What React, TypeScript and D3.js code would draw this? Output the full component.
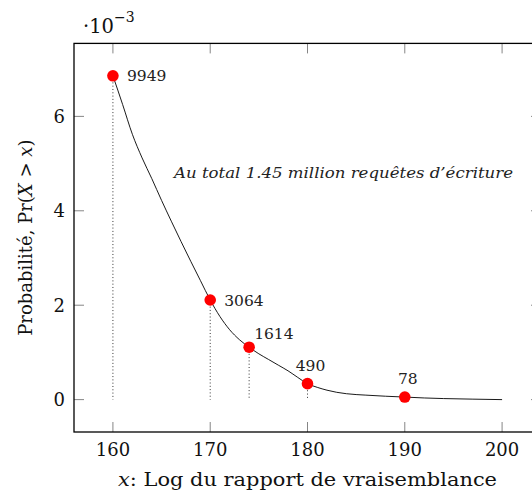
import React from "react";
import * as d3 from "d3";

// Data (probabilities in units of 1e-3)
const curveX = [160, 161, 162, 163, 164, 165, 166, 167, 168, 169, 170, 171, 172, 173, 174, 175, 176, 177, 178, 179, 180, 181, 182, 183, 184, 186, 188, 190, 192, 194, 197, 200];
const curveY = [6.86, 6.25, 5.62, 5.12, 4.68, 4.22, 3.78, 3.35, 2.93, 2.52, 2.11, 1.76, 1.48, 1.27, 1.11, 0.97, 0.85, 0.73, 0.61, 0.47, 0.338, 0.26, 0.2, 0.155, 0.125, 0.095, 0.072, 0.054, 0.035, 0.022, 0.01, 0.0];
const pointX = [160, 170, 174, 180, 190];
const pointY = [6.86, 2.11, 1.11, 0.338, 0.054];
const pointLabels = ["9949", "3064", "1614", "490", "78"];
const labelPlacement = ["right", "right", "aboveRight", "above", "above"];
const xTicks = [160, 170, 180, 190, 200];
const yTicks = [0, 2, 4, 6];

const W = 532, H = 495;
const L = 74, R = 541, T = 43.4, B = 432;

export default function App() {
  const x = d3.scaleLinear().domain([156, 204]).range([L, R]);
  const y = d3.scaleLinear().domain([-0.686, 7.546]).range([B, T]);
  const line = d3.line<number>().x((_, i) => x(curveX[i])).y((d) => y(d)).curve(d3.curveMonotoneX);
  const font = "'DejaVu Serif', serif";
  const tick = 10;
  return (
    <svg width={W} height={H} style={{ position: "absolute", left: 0, top: 0, background: "#fff" }} xmlns="http://www.w3.org/2000/svg">
      <defs>
        <clipPath id="plot">
          <rect x={L} y={T} width={R - L} height={B - T} />
        </clipPath>
      </defs>
      {/* dotted drop lines */}
      {pointX.map((px, i) => (
        <line key={"d" + i} x1={x(px)} x2={x(px)} y1={y(pointY[i])} y2={y(0)} stroke="#333" strokeWidth={1} strokeDasharray="1 2.3" />
      ))}
      {/* curve */}
      <path d={line(curveY) || ""} fill="none" stroke="#000" strokeWidth={0.9} clipPath="url(#plot)" />
      {/* points */}
      {pointX.map((px, i) => (
        <circle key={"c" + i} cx={x(px)} cy={y(pointY[i])} r={5.8} fill="#ff0000" />
      ))}
      {/* point labels */}
      {pointX.map((px, i) => {
        const cx = x(px), cy = y(pointY[i]);
        const p = labelPlacement[i];
        let tx = cx, ty = cy, anchor = "start";
        if (p === "right") { tx = cx + 14; ty = cy + 5.5; }
        else if (p === "aboveRight") { tx = cx + 5; ty = cy - 8; }
        else { tx = cx + 3; ty = cy - 13; anchor = "middle"; }
        return (
          <text key={"l" + i} x={tx} y={ty} fontFamily={font} fontSize={15.5} textAnchor={anchor} fill="#222">{pointLabels[i]}</text>
        );
      })}
      {/* annotation */}
      <text x={174} y={178} fontFamily={font} fontStyle="italic" fontSize={14.5} textLength={339} lengthAdjust="spacingAndGlyphs" fill="#222">Au total 1.45 million requêtes d’écriture</text>
      {/* ticks */}
      {xTicks.map((t) => (
        <g key={"xt" + t}>
          <line x1={x(t)} x2={x(t)} y1={B} y2={B - tick} stroke="#666" strokeWidth={0.8} />
          <line x1={x(t)} x2={x(t)} y1={T} y2={T + tick} stroke="#666" strokeWidth={0.8} />
          <text x={x(t)} y={456} fontFamily={font} fontSize={18} textAnchor="middle" fill="#111">{t}</text>
        </g>
      ))}
      {yTicks.map((t) => (
        <g key={"yt" + t}>
          <line x1={L} x2={L + tick} y1={y(t)} y2={y(t)} stroke="#666" strokeWidth={0.8} />
          <line x1={R} x2={R - tick} y1={y(t)} y2={y(t)} stroke="#666" strokeWidth={0.8} />
          <text x={65} y={y(t) + 6.5} fontFamily={font} fontSize={18} textAnchor="end" fill="#111">{t}</text>
        </g>
      ))}
      {/* frame */}
      <rect x={L} y={T} width={R - L} height={B - T} fill="none" stroke="#000" strokeWidth={1.3} />
      {/* scale label */}
      <text x={83} y={33} fontFamily={font} fontSize={19.5} fill="#111">
        ·10<tspan dy={-11} fontSize={14}>−3</tspan>
      </text>
      {/* axis labels */}
      <text x={118} y={486} fontFamily={font} fontSize={18.5} textLength={379} lengthAdjust="spacingAndGlyphs" fill="#111">
        <tspan fontStyle="italic">x</tspan>: Log du rapport de vraisemblance
      </text>
      <text transform={`translate(32,${(T + B) / 2}) rotate(-90)`} fontFamily={font} fontSize={18} textAnchor="middle" fill="#111">
        Probabilité, Pr(<tspan fontStyle="italic">X</tspan> &gt; <tspan fontStyle="italic">x</tspan>)
      </text>
    </svg>
  );
}
